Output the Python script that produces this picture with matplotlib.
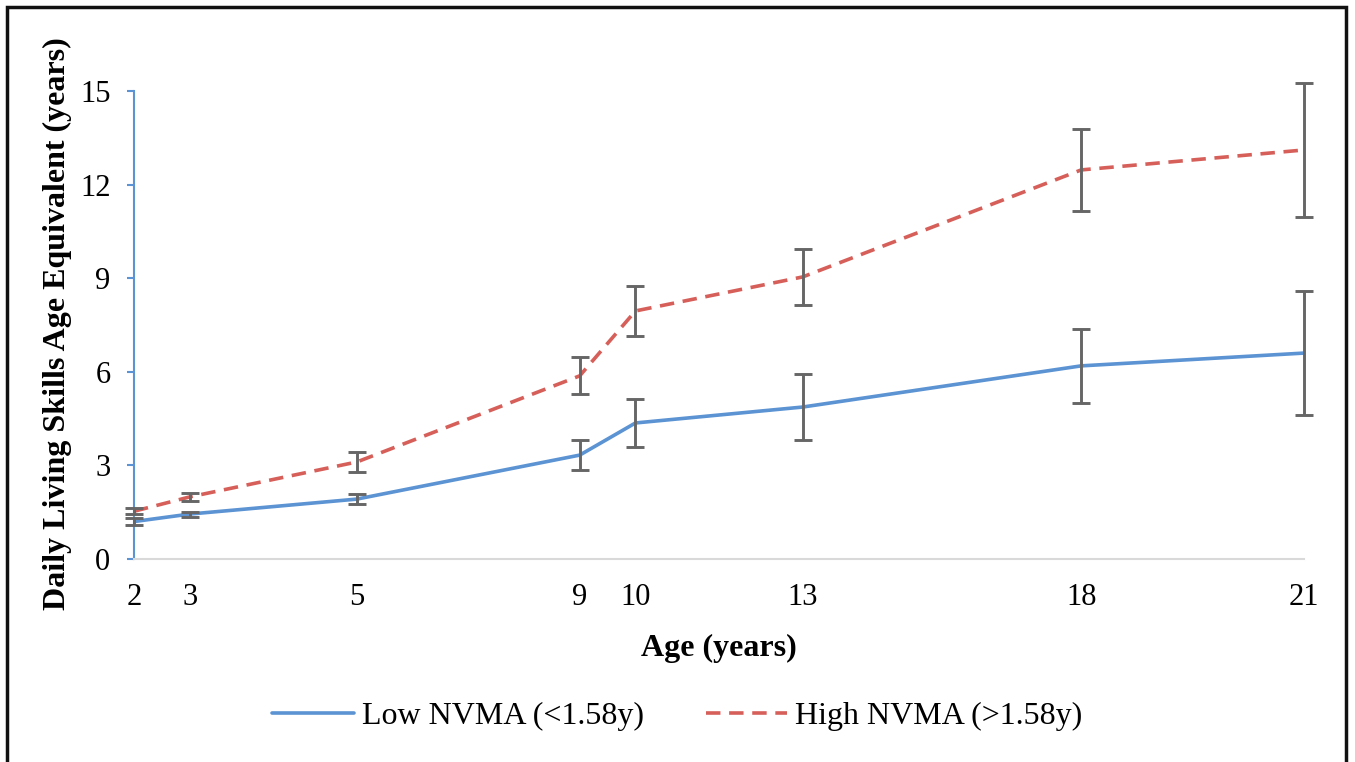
import matplotlib
matplotlib.use('Agg')
import matplotlib.pyplot as plt
from matplotlib.patches import Rectangle

plt.rcParams['font.family'] = ['Liberation Serif', 'DejaVu Serif']

# x positions of the assessment waves and their printed labels
age_pos = [2, 3, 6, 10, 11, 14, 19, 23]
age_labels = ['2', '3', '5', '9', '10', '13', '18', '21']

low_mean = [1.20, 1.44, 1.92, 3.33, 4.36, 4.87, 6.19, 6.60]
low_err = [0.12, 0.08, 0.17, 0.48, 0.78, 1.05, 1.18, 2.00]
high_mean = [1.53, 1.99, 3.11, 5.87, 7.95, 9.04, 12.47, 13.11]
high_err = [0.10, 0.12, 0.31, 0.59, 0.80, 0.90, 1.31, 2.16]

blue = '#5B93D3'
red = '#D65F5A'
bar_col = '#666666'

fig = plt.figure(figsize=(13.55, 7.62), dpi=100)
ax = fig.add_axes([134/1355, 1 - 559/762, 1170/1355, 468/762])

ax.plot(age_pos, low_mean, color=blue, lw=2.6, label='Low NVMA (<1.58y)',
        solid_capstyle='round', zorder=3)
ax.plot(age_pos, high_mean, color=red, lw=2.6, ls=(0, (4, 2.4)),
        label='High NVMA (>1.58y)', zorder=3)
for m, e in [(low_mean, low_err), (high_mean, high_err)]:
    ax.errorbar(age_pos, m, yerr=e, fmt='none', ecolor=bar_col, elinewidth=2.1,
                capsize=6.5, capthick=2.1, clip_on=False, zorder=4)

ax.set_xlim(2, 23)
ax.set_ylim(0, 15)
ax.set_yticks([0, 3, 6, 9, 12, 15])
ax.set_xticks(age_pos)
ax.set_xticklabels(age_labels)

for s in ['top', 'right']:
    ax.spines[s].set_visible(False)
ax.spines['left'].set_color(blue)
ax.spines['left'].set_linewidth(1.5)
ax.spines['bottom'].set_color('#D9D9D9')
ax.spines['bottom'].set_linewidth(1.5)

ax.tick_params(axis='y', direction='out', length=5, width=1.5, color=blue,
               pad=12, labelsize=22)
ax.tick_params(axis='x', length=0, pad=17, labelsize=22)

ax.set_xlabel('Age (years)', fontsize=23, fontweight='bold')
ax.set_ylabel('Daily Living Skills Age Equivalent (years)', fontsize=23,
              fontweight='bold')
ax.xaxis.set_label_coords(0.5, -0.16)
ax.yaxis.set_label_coords(-0.053, 0.502)

fig.legend(loc='center', bbox_to_anchor=(0.5, 1 - 716/762), ncol=2,
           frameon=False, fontsize=23, handlelength=2.55, handletextpad=0.25,
           columnspacing=1.95)

fig.patches.append(Rectangle((7/1355, -0.05), (1346-7)/1355, 1.05 - 7/762,
                             transform=fig.transFigure, fill=False,
                             edgecolor='#111111', lw=2.5))

fig.savefig('out.png', dpi=100)
